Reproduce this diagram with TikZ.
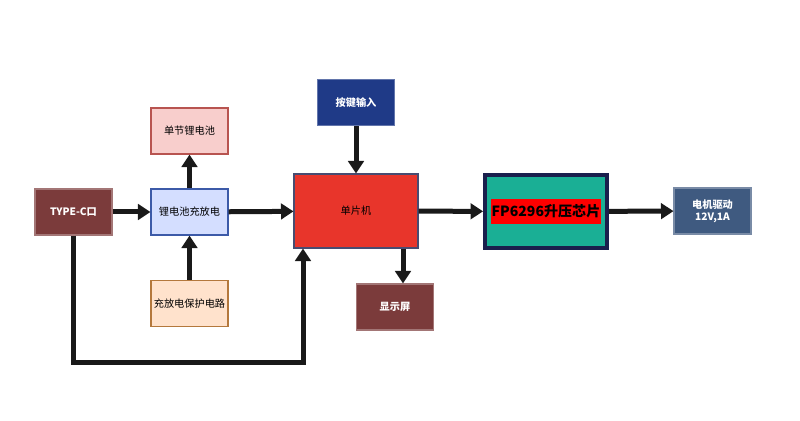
\documentclass[tikz,border=0pt]{standalone}
\usepackage{fontspec}
\setmainfont{Noto Sans CJK SC}
\usetikzlibrary{arrows.meta,positioning,calc}
\definecolor{tcred}{HTML}{7B3B3B}
\definecolor{keyblue}{HTML}{1F3A87}
\definecolor{motorblue}{HTML}{3F5A80}
\definecolor{batfill}{HTML}{F8CECC}
\definecolor{batline}{HTML}{B85450}
\definecolor{lbcfill}{HTML}{D4DEFF}
\definecolor{lbcline}{HTML}{3C5AA8}
\definecolor{protfill}{HTML}{FFE2CC}
\definecolor{protline}{HTML}{B4783C}
\definecolor{mcured}{HTML}{E8352B}
\definecolor{boostteal}{HTML}{1AAF95}
\definecolor{boostline}{HTML}{1A1F4D}

\begin{document}
\begin{tikzpicture}[x=0.02cm, y=-0.02cm, semithick]
  \tikzstyle{block} = [draw, rectangle, inner sep=0pt, minimum width=1.54cm, minimum height=0.92cm, line width=0.6pt, font={\fontsize{5.8}{7}\selectfont}, align=center]
  \tikzstyle{darkblock} = [block, text=white, font={\fontsize{5.8}{7}\selectfont\bfseries}]
  \tikzstyle{conn} = [line width=0.1cm, black!90, -{Triangle[length=0.25cm, width=0.31cm]}]
  \useasboundingbox (0,0) rectangle (800,421);

  \node[darkblock, fill=tcred, draw=tcred!70!white](tc) at (73.5,212) {TYPE-C口};
  \node[block, fill=lbcfill, draw=lbcline](lbc) at (189.5,212) {锂电池充放电};
  \node[block, fill=batfill, draw=batline](bat) at (189.5,131) {单节锂电池};
  \node[block, fill=protfill, draw=protline](prot) at (189.5,303.5) {充放电保护电路};
  \node[block, fill=mcured, draw=boostline!80, minimum width=2.48cm, minimum height=1.48cm](mcu) at (356,211) {单片机};
  \node[darkblock, fill=keyblue, draw=keyblue!70!white](key) at (356,102.5) {按键输入};
  \node[darkblock, fill=tcred, draw=tcred!70!white](disp) at (395,307) {显示屏};
  \node[block, fill=boostteal, draw=boostline, line width=2.2pt, minimum width=2.44cm, minimum height=1.46cm, font={\fontsize{8}{9}\selectfont\bfseries}](boost) at (546,211.5) {\colorbox{red}{\hspace{-2.5pt}FP6296升压芯片\hspace{-2.5pt}}};
  \node[darkblock, fill=motorblue, draw=motorblue!70!white](motor) at (712.5,211) {电机驱动\\12V,1A};
  \coordinate (lp) at (303,363);
  \coordinate (dp) at ([xshift=0.16cm]disp.north);

  \draw[conn] (tc) -- (lbc);
  \draw[conn] (lbc) -- (bat);
  \draw[conn] (prot) -- (lbc);
  \draw[conn] (lbc) -- (mcu);
  \draw[conn] (key) -- (mcu);
  \draw[conn] (mcu.south -| dp) -- (dp);
  \draw[conn] (mcu) -- (boost);
  \draw[conn] (boost) -- (motor);
  \draw[conn] (tc.south) |- (lp) -- (lp |- mcu.south);
\end{tikzpicture}
\end{document}
